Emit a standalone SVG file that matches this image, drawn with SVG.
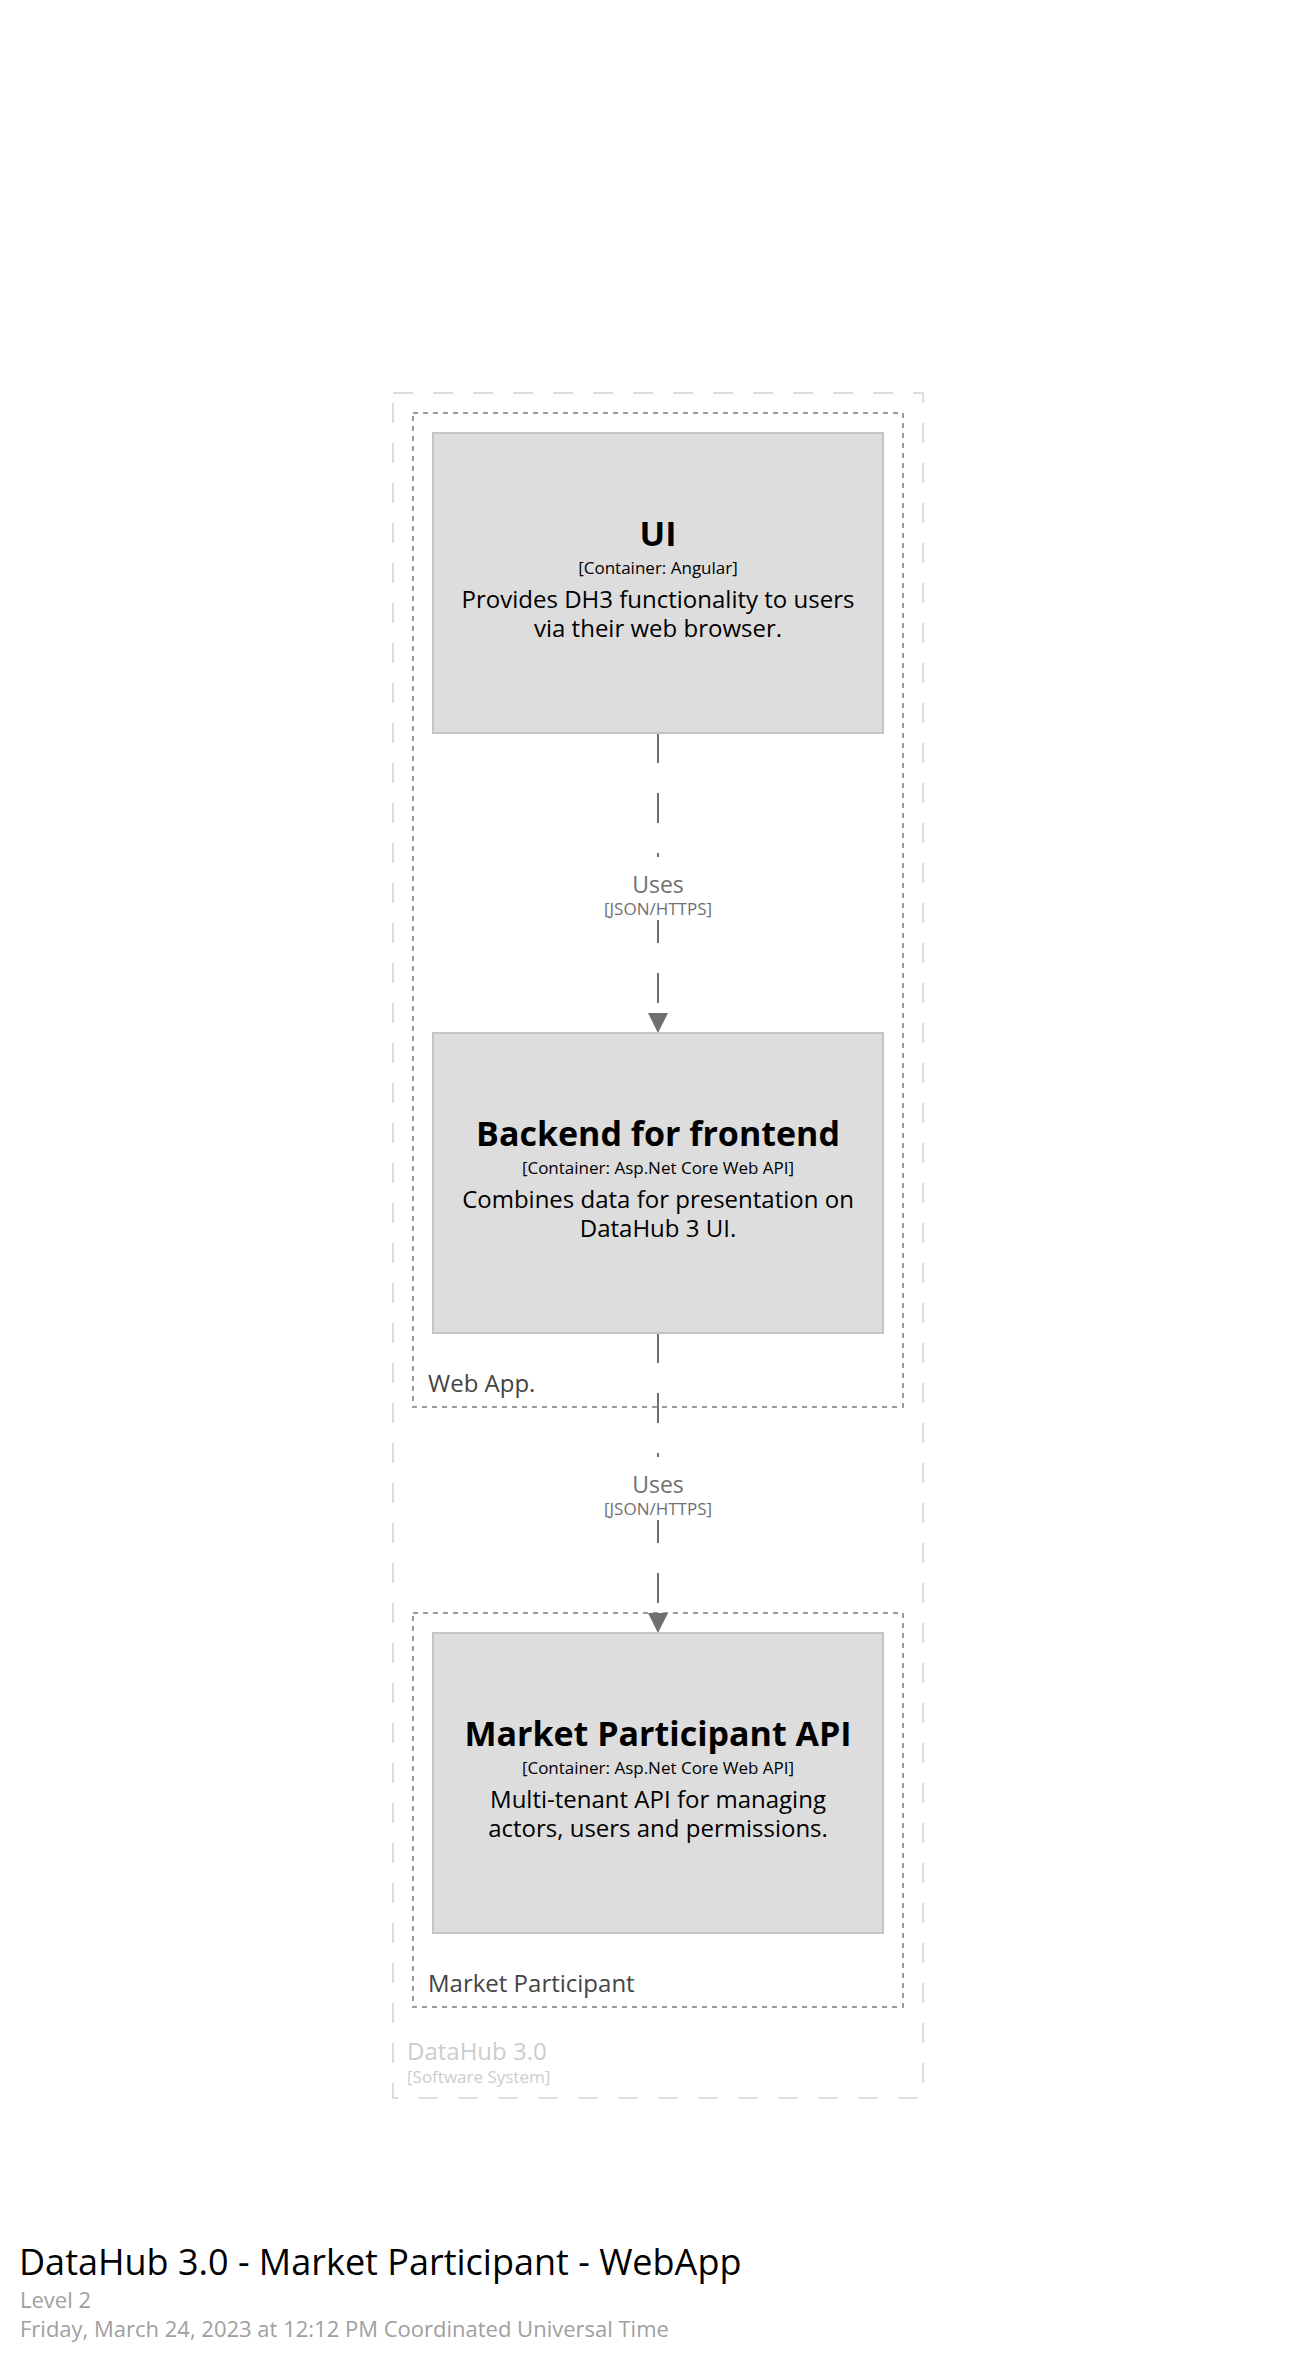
<svg xmlns="http://www.w3.org/2000/svg" width="1316" height="2366" viewBox="0 0 1316 2366">
<defs>
<style>
text{font-family:"Open Sans","Noto Sans","Liberation Sans",sans-serif}
.sys{fill:none;stroke:#dddddd;stroke-width:2;stroke-dasharray:20,20}
.grp{fill:none;stroke:#9a9a9a;stroke-width:2;stroke-dasharray:5,5}
.box{fill:#dddddd;stroke:#c4c4c4;stroke-width:2}
.name{font-size:34px;font-weight:bold;fill:#000;text-anchor:middle}
.tech{font-size:17px;fill:#000;text-anchor:middle}
.desc{font-size:24px;fill:#000;text-anchor:middle}
.glabel{font-size:24px;fill:#444444}
.edge{fill:none;stroke:#707070;stroke-width:2;stroke-dasharray:30,30}
.arrow{fill:#707070}
.elabel{font-size:23px;fill:#707070;text-anchor:middle}
.etech{font-size:17px;fill:#707070;text-anchor:middle}
.lblbg{fill:#ffffff}
</style>
</defs>
<rect width="1316" height="2366" fill="#ffffff"/>
<g id="datahub-system">
<rect class="sys" x="393" y="393" width="530" height="1705"/>
<text x="407" y="2060" font-size="24" fill="#cccccc">DataHub 3.0</text>
<text x="407" y="2083" font-size="17" fill="#cccccc">[Software System]</text>
</g>
<g id="webapp-group">
<rect class="grp" x="413" y="413" width="490" height="994"/>
<text class="glabel" x="428" y="1392">Web App.</text>
</g>
<g id="market-participant-group">
<rect class="grp" x="413" y="1613" width="490" height="394"/>
<text class="glabel" x="428" y="1992">Market Participant</text>
</g>
<g id="connectors">
<line class="edge" x1="658" y1="733" x2="658" y2="1013"/>
<path class="arrow" d="M648,1013 L668,1013 L658,1033 Z"/>
<rect class="lblbg" x="598" y="857" width="120" height="63"/>
<text class="elabel" x="658" y="893">Uses</text>
<text class="etech" x="658" y="915">[JSON/HTTPS]</text>
<line class="edge" x1="658" y1="1333" x2="658" y2="1613"/>
<path class="arrow" d="M648,1613 L668,1613 L658,1633 Z"/>
<rect class="lblbg" x="598" y="1457" width="120" height="63"/>
<text class="elabel" x="658" y="1493">Uses</text>
<text class="etech" x="658" y="1515">[JSON/HTTPS]</text>
</g>
<g id="ui">
<rect class="box" x="433" y="433" width="450" height="300"/>
<text class="name" x="658" y="546">UI</text>
<text class="tech" x="658" y="574">[Container: Angular]</text>
<text class="desc" x="658" y="608">Provides DH3 functionality to users</text>
<text class="desc" x="658" y="637">via their web browser.</text>
</g>
<g id="backend-for-frontend">
<rect class="box" x="433" y="1033" width="450" height="300"/>
<text class="name" x="658" y="1146">Backend for frontend</text>
<text class="tech" x="658" y="1174">[Container: Asp.Net Core Web API]</text>
<text class="desc" x="658" y="1208">Combines data for presentation on</text>
<text class="desc" x="658" y="1237">DataHub 3 UI.</text>
</g>
<g id="market-participant-api">
<rect class="box" x="433" y="1633" width="450" height="300"/>
<text class="name" x="658" y="1746">Market Participant API</text>
<text class="tech" x="658" y="1774">[Container: Asp.Net Core Web API]</text>
<text class="desc" x="658" y="1808">Multi-tenant API for managing</text>
<text class="desc" x="658" y="1837">actors, users and permissions.</text>
</g>
<g id="title">
<text x="19" y="2275" font-size="36" fill="#000000">DataHub 3.0 - Market Participant - WebApp</text>
<text x="20" y="2308" font-size="22" fill="#a0a0a0">Level 2</text>
<text x="20" y="2337" font-size="22" fill="#a0a0a0">Friday, March 24, 2023 at 12:12 PM Coordinated Universal Time</text>
</g>
</svg>
